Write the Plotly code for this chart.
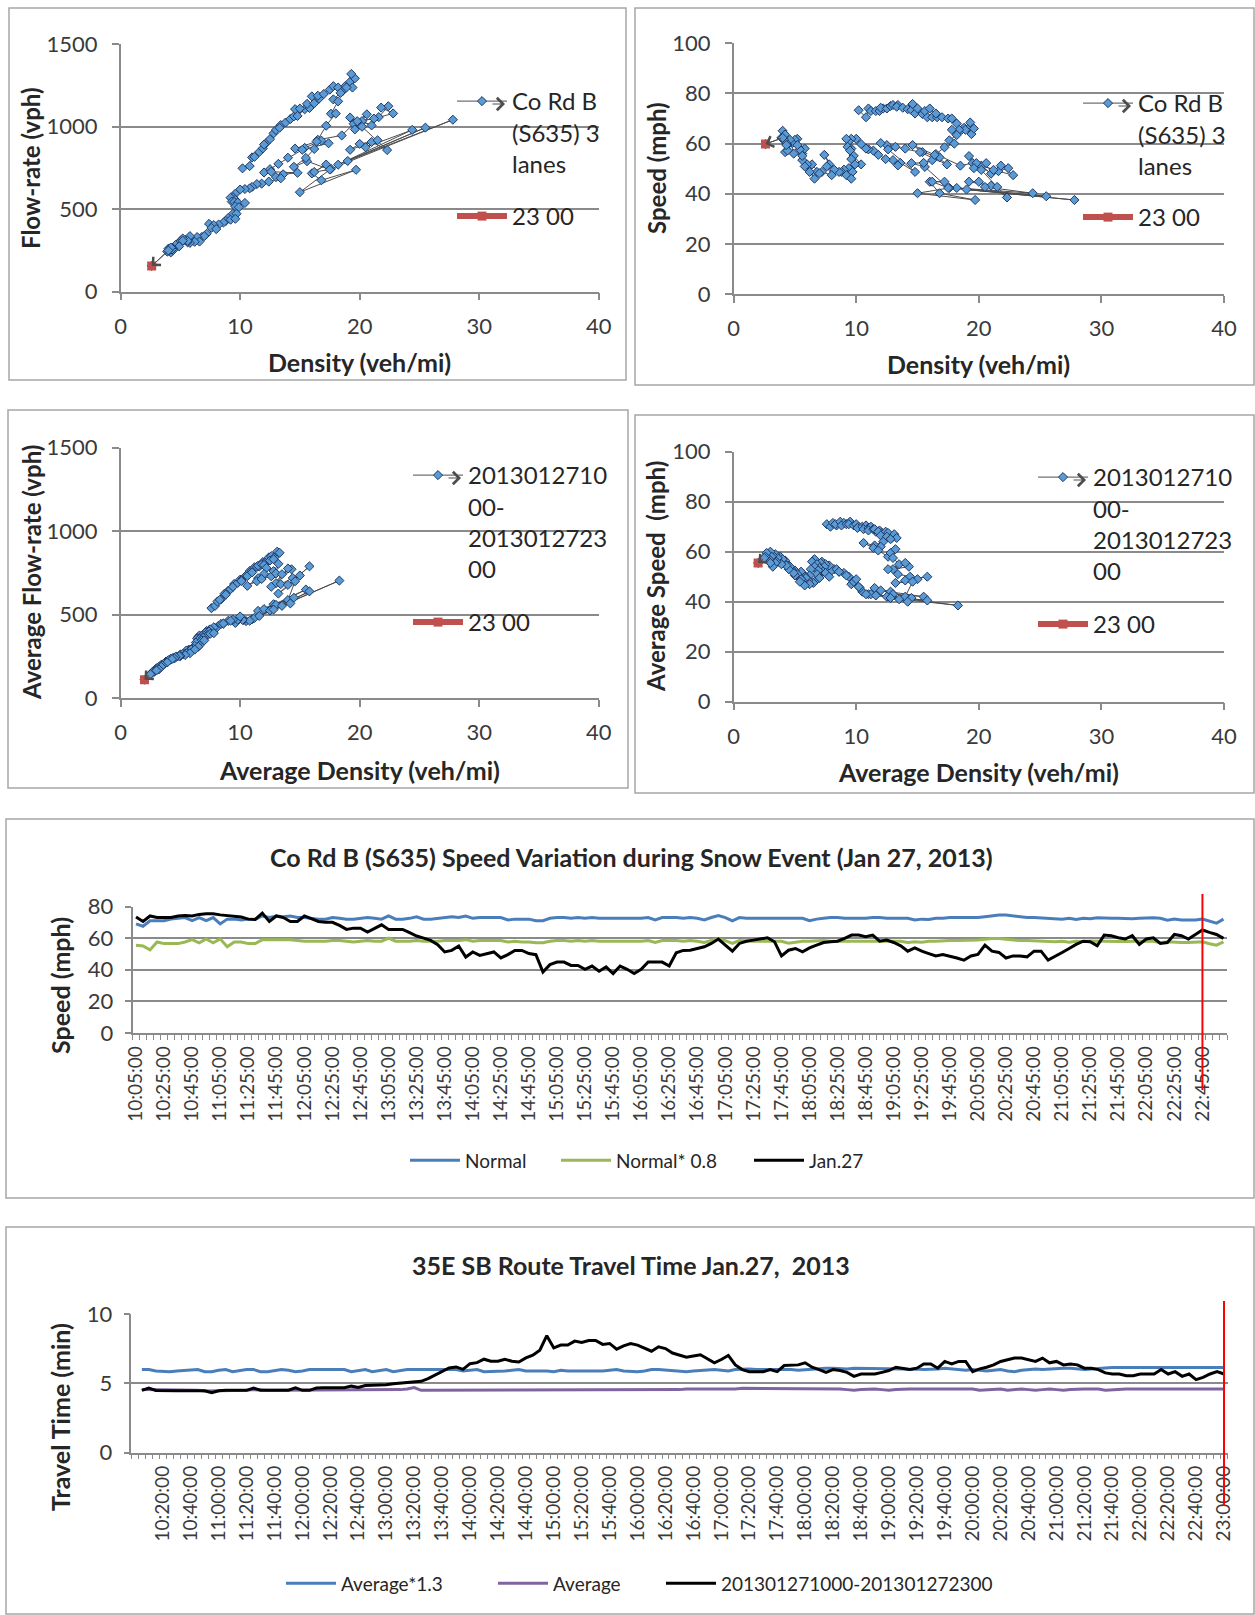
import plotly.graph_objects as go

# ---------------- data ----------------
# Co Rd B (S635), 3 lanes, 5-minute records 10:05 - 23:00 on Jan 27, 2013
cordb_speed = [
    73.3, 70.5, 74.0, 73.0, 73.0, 73.0, 74.0, 74.3, 74.0, 75.0,
    75.4, 75.4, 74.7, 74.3, 73.7, 73.3, 72.0, 71.8, 75.8, 70.5,
    74.0, 73.0, 70.5, 70.5, 74.0, 72.0, 70.5, 70.0, 70.0, 68.0,
    65.5, 66.3, 66.3, 63.8, 66.0, 68.4, 65.5, 65.5, 65.5, 63.4,
    61.3, 60.0, 58.5, 55.8, 51.2, 52.2, 55.0, 48.0, 51.2, 49.0,
    50.2, 51.2, 47.4, 49.5, 52.2, 52.2, 50.2, 49.5, 38.5, 43.2,
    44.8, 44.8, 42.7, 42.7, 40.2, 42.3, 39.0, 41.7, 37.5, 42.3,
    40.2, 37.5, 40.2, 44.8, 44.8, 44.8, 42.3, 50.7, 52.2, 52.3,
    53.4, 54.5, 56.6, 59.4, 55.5, 51.7, 56.6, 58.0, 58.7, 59.4,
    60.2, 57.7, 48.7, 52.3, 53.4, 51.3, 53.8, 55.5, 57.2, 57.7,
    58.0, 59.8, 61.9, 61.9, 60.9, 61.9, 58.0, 58.7, 57.2, 55.1,
    51.7, 53.8, 51.7, 50.2, 48.7, 49.6, 48.7, 47.4, 46.0, 48.7,
    49.6, 55.5, 51.7, 50.9, 47.4, 48.7, 48.7, 48.1, 51.7, 51.7,
    46.0, 48.7, 50.9, 53.4, 56.0, 58.0, 57.7, 55.1, 61.9, 61.5,
    60.2, 59.4, 61.5, 56.0, 59.4, 60.2, 56.6, 57.2, 62.3, 61.5,
    59.4, 62.3, 65.1, 63.6, 62.3, 59.8,
]
cordb_density = [
    10.2, 10.8, 11.0, 11.2, 11.6, 11.9, 12.2, 12.0, 12.5, 12.8,
    13.0, 13.4, 13.3, 13.8, 14.2, 14.5, 14.8, 15.4, 14.6, 15.8,
    15.0, 15.6, 16.2, 16.6, 16.0, 16.5, 17.0, 17.5, 17.8, 18.2,
    18.6, 18.8, 19.2, 19.4, 19.6, 19.3, 18.9, 18.4, 17.8, 18.2,
    17.6, 18.0, 17.2, 16.5, 18.5, 19.5, 19.2, 21.0, 20.2, 21.6,
    22.4, 21.8, 22.8, 21.2, 19.8, 20.6, 19.6, 20.2, 22.3, 21.0,
    20.0, 19.2, 21.5, 20.5, 24.4, 18.2, 25.5, 19.0, 27.8, 17.6,
    15.0, 19.7, 16.8, 16.0, 17.2, 16.2, 17.5, 15.6, 14.5, 15.5,
    16.2, 16.8, 15.4, 14.6, 16.4, 17.4, 15.2, 14.0, 13.2, 12.5,
    12.0, 12.6, 14.8, 13.6, 13.0, 13.4, 12.4, 11.8, 11.4, 11.0,
    10.8, 10.4, 10.0, 9.6, 9.4, 9.2, 9.6, 9.3, 9.5, 9.8,
    10.4, 9.6, 9.9, 9.4, 9.7, 9.0, 8.8, 9.2, 9.6, 8.6,
    8.2, 7.4, 7.8, 7.6, 8.0, 7.2, 6.8, 7.0, 6.4, 6.0,
    6.6, 6.2, 5.8, 5.6, 5.6, 5.8, 5.4, 5.6, 5.2, 5.0,
    4.8, 5.2, 4.6, 4.9, 4.4, 4.3, 4.2, 4.4, 4.0, 4.1,
    4.3, 3.9, 4.0, 4.2, 4.0, 2.6,
]
normal_speed = [
    69.0, 67.5, 71.0, 71.0, 71.0, 72.0, 72.5, 73.0, 71.0, 73.0,
    71.0, 73.0, 69.0, 72.0, 72.0, 71.5, 72.0, 72.0, 74.0, 73.0,
    74.0, 73.5, 74.0, 73.0, 73.0, 72.5, 72.0, 72.0, 73.0, 72.5,
    72.0, 72.0, 72.5, 73.0, 72.5, 72.0, 74.0, 72.0, 72.0, 72.5,
    73.5, 72.0, 72.0, 72.5, 73.0, 73.5, 73.0, 74.0, 72.5, 73.0,
    73.0, 73.0, 73.0, 71.5, 72.0, 72.0, 72.0, 71.0, 71.0, 72.5,
    73.0, 73.0, 72.5, 73.0, 72.5, 73.0, 72.5, 72.5, 72.5, 72.5,
    72.5, 72.5, 72.5, 73.0, 71.5, 73.0, 73.0, 73.0, 72.5,
    73.0, 72.5, 71.5, 73.0, 74.3, 73.0, 70.9, 73.0, 72.5, 72.5,
    72.5, 72.5, 72.5, 72.5, 72.5, 72.5, 72.5, 71.0, 72.0, 72.5,
    73.0, 73.0, 72.5, 72.5, 72.5, 72.5, 73.0, 73.0, 72.5, 72.5,
    72.5, 72.5, 71.5, 72.0, 71.8, 72.5, 72.5, 73.0, 73.0, 73.0,
    73.0, 73.0, 73.5, 74.0, 74.6, 74.6, 74.0, 73.5, 73.0, 73.0,
    72.8, 72.5, 72.5, 72.0, 72.5, 71.8, 72.5, 72.3, 72.8, 72.5,
    72.5, 72.5, 72.2, 72.3, 72.5, 72.8, 72.8, 72.5, 71.3, 72.0,
    71.5, 71.5, 71.5, 72.0, 70.5, 69.4, 72.0,
]
normal_speed_80 = [
    55.4, 55.0, 52.5, 57.5, 56.5, 56.5, 56.5, 57.5, 59.0, 57.0,
    59.5, 57.0, 59.5, 54.5, 57.5, 57.5, 56.5, 56.5, 59.0, 59.0,
    59.0, 59.0, 59.0, 58.5, 58.0, 58.0, 58.0, 58.0, 58.5, 58.5,
    58.0, 57.5, 58.0, 58.5, 58.0, 58.0, 60.0, 58.0, 58.0, 58.0,
    58.5, 58.0, 58.0, 58.0, 58.5, 58.5, 58.5, 59.0, 58.0, 58.5,
    58.5, 58.5, 58.5, 57.5, 58.0, 57.5, 57.5, 57.0, 57.0, 58.0,
    58.5, 58.5, 58.0, 58.5, 58.0, 58.5, 58.0, 58.0, 58.0, 58.0,
    58.0, 58.0, 58.0, 58.5, 57.2, 58.5, 58.5, 58.5, 58.0, 58.5,
    58.0, 57.2, 58.5, 59.4, 58.4, 56.7, 58.4, 58.0, 58.0, 58.0,
    58.0, 58.0, 58.0, 56.8, 57.6, 58.0, 58.0, 58.4, 58.4, 58.0,
    58.0, 58.0, 58.0, 58.0, 58.4, 58.4, 58.0, 58.0, 58.0, 58.0,
    57.2, 57.6, 57.4, 58.0, 58.0, 58.4, 58.4, 58.4, 58.4, 58.4,
    58.8, 59.2, 59.7, 59.7, 59.2, 58.8, 58.4, 58.4, 58.2, 58.0,
    58.0, 57.6, 58.0, 57.4, 58.0, 57.8, 58.2, 58.0, 58.0, 58.0,
    57.8, 57.8, 58.0, 58.2, 58.2, 58.0, 57.0, 57.6, 57.2, 57.2,
    57.2, 57.2, 57.6, 56.4, 55.5, 57.6,
]

# Route averages, 201301271000-201301272300
avg_density = [
    7.6, 7.9, 8.1, 8.4, 8.3, 8.7, 9.0, 8.8, 9.2, 9.5,
    9.4, 9.8, 10.0, 10.2, 10.1, 10.5, 10.8, 10.6, 11.0, 11.2,
    11.0, 11.4, 11.6, 11.5, 11.9, 12.1, 11.8, 12.2, 12.4, 12.0,
    12.6, 12.5, 12.9, 13.1, 13.3, 12.8,
    12.2, 11.5, 10.6, 11.4, 12.0, 11.8, 12.6, 12.8, 13.2, 13.0,
    13.5, 14.3, 13.0, 14.0, 12.6, 13.4, 14.4, 15.0, 14.0, 15.8,
    13.2, 14.6,
    14.0, 12.8, 11.5, 13.0, 15.5, 12.0, 14.5, 11.0, 15.8, 12.5,
    13.5, 14.2, 11.2, 18.3, 12.8, 10.5, 11.6, 10.3, 10.8, 9.6,
    10.2,
    9.8, 9.4, 10.0, 9.0, 8.6, 8.2, 9.2, 8.0, 7.6, 8.4,
    7.4, 7.8, 7.2, 7.5, 8.6, 7.0, 6.8, 6.5, 6.6, 7.1,
    7.4, 6.4, 6.8, 7.0, 7.3, 6.6, 7.5, 7.8, 6.9, 6.3,
    6.8, 7.0,
    6.6, 6.2, 6.5, 6.0, 5.7, 6.1, 5.8, 5.5, 5.9, 6.2,
    5.6, 5.3, 5.0, 5.2, 5.5, 5.8, 5.4, 5.0, 4.7, 4.9,
    4.4, 4.6, 4.2, 4.5, 4.1, 3.8, 4.0, 4.3, 3.7, 3.4,
    3.6, 3.9, 3.2, 3.5, 3.0, 3.1, 3.4, 2.9, 2.7, 3.2,
    2.8, 2.6, 3.0, 2.5, 2.0,
]
avg_speed = [
    71.0, 70.0, 71.5, 70.5, 71.0, 72.0, 71.5, 70.5, 71.0, 72.0,
    71.0, 70.5, 71.0, 70.0, 69.5, 70.0, 70.5, 69.0, 69.5, 70.0,
    68.5, 69.0, 68.0, 69.0, 68.5, 67.5, 68.0, 67.0, 68.0, 66.5,
    67.5, 66.0, 65.5, 67.0, 65.5, 65.0,
    64.0, 62.5, 63.5, 61.5, 62.0, 60.5, 58.0, 59.5, 61.0, 57.5,
    55.0, 54.0, 53.0, 55.5, 53.0, 51.0, 50.0, 49.0, 48.5, 50.0,
    47.5, 48.0,
    42.0, 44.0, 45.5, 43.0, 42.0, 44.5, 41.5, 43.0, 40.5, 42.0,
    41.0, 40.0, 43.0, 38.5, 41.5, 44.0, 42.5, 45.5, 43.0, 47.0,
    46.0,
    48.0, 50.0, 49.0, 51.5, 52.0, 53.0, 50.5, 52.5, 54.0, 53.0,
    55.0, 54.5, 56.0, 55.0, 52.0, 53.5, 55.0, 56.5, 57.0, 55.5,
    54.0, 56.0, 55.0, 53.5, 52.0, 54.0, 51.5, 50.0, 52.5, 53.0,
    51.0, 49.5,
    48.0, 50.5, 47.5, 49.0, 51.0, 48.5, 50.0, 52.0, 49.5, 47.0,
    48.5, 50.0, 52.5, 51.0, 49.0, 46.5, 48.0, 50.5, 53.0, 51.5,
    55.0, 54.0, 56.5, 53.0, 55.5, 58.0, 57.0, 54.5, 56.0, 59.0,
    57.5, 55.0, 58.5, 56.0, 60.0, 58.0, 55.5, 57.0, 59.5, 54.0,
    56.5, 58.0, 55.5, 57.5, 55.5,
]

# 35E SB route travel time (min), 10:05 - 23:00
tt_avg_x13 = [
    6.0, 6.0, 5.9, 5.85, 5.85, 5.9, 5.95, 6.0, 6.0, 5.85,
    5.85, 5.95, 6.0, 5.85, 5.95, 6.0, 6.0, 5.85, 5.85, 5.95,
    6.0, 5.95, 5.85, 5.9, 6.0, 6.0, 6.0, 6.0, 6.0, 6.0,
    5.85, 5.95, 6.0, 5.85, 5.95, 6.0, 5.85, 5.95, 6.0, 6.0,
    6.0, 6.0, 6.0, 6.0, 6.0, 6.0, 5.9, 5.95, 6.0, 5.85,
    5.85, 5.9, 5.9, 5.95, 6.0, 5.9, 5.9, 5.95, 5.9, 5.85,
    5.95, 5.9, 5.9, 5.85, 5.85, 5.85, 5.9, 5.95, 6.0, 5.9,
    5.85, 5.85, 5.9, 6.0, 6.0, 5.95, 5.9, 5.85, 5.85, 5.9,
    5.95, 5.95, 6.0, 5.95, 5.9, 6.0, 6.05, 6.05, 6.0, 6.0,
    6.0, 6.05, 6.05, 6.0, 5.95, 6.0, 6.0, 6.05, 6.1, 6.1,
    6.05, 6.05, 6.1, 6.1, 6.1, 6.1, 6.05, 6.05, 6.1, 6.05,
    6.0, 6.05, 6.0, 6.0, 6.05, 6.1, 6.05, 6.0, 5.95, 6.0,
    5.95, 5.9, 5.95, 6.0, 5.9, 5.85, 5.95, 6.0, 6.05, 6.0,
    6.05, 6.05, 6.1, 6.1, 6.05, 6.0, 6.05, 6.1, 6.15, 6.15,
    6.15, 6.15, 6.15, 6.15, 6.15, 6.15, 6.15, 6.15, 6.15, 6.15,
    6.15, 6.15, 6.15, 6.15, 6.15, 6.15,
]
tt_avg = [
    4.55, 4.55, 4.5, 4.5, 4.5, 4.5, 4.5, 4.5, 4.5, 4.45,
    4.45, 4.5, 4.5, 4.5, 4.5, 4.5, 4.55, 4.5, 4.5, 4.5,
    4.5, 4.5, 4.55, 4.5, 4.5, 4.5, 4.5, 4.5, 4.5, 4.55,
    4.5, 4.5, 4.55, 4.55, 4.55, 4.55, 4.55, 4.55, 4.6, 4.7,
    4.5, 4.5, 4.5, 4.5, 4.5, 4.5, 4.5, 4.5, 4.5, 4.5,
    4.5, 4.5, 4.5, 4.5, 4.5, 4.5, 4.5, 4.5, 4.5, 4.5,
    4.5, 4.5, 4.5, 4.5, 4.5, 4.5, 4.5, 4.5, 4.5, 4.5,
    4.5, 4.5, 4.5, 4.5, 4.5, 4.5, 4.55, 4.55, 4.6, 4.6,
    4.55, 4.55, 4.6, 4.55, 4.55, 4.6, 4.65, 4.65, 4.6, 4.6,
    4.65, 4.65, 4.6, 4.6, 4.6, 4.65, 4.65, 4.6, 4.65, 4.6,
    4.6, 4.55, 4.5, 4.55, 4.6, 4.6, 4.55, 4.5, 4.55, 4.6,
    4.6, 4.6, 4.6, 4.6, 4.6, 4.65, 4.65, 4.65, 4.65, 4.6,
    4.5, 4.55, 4.6, 4.6, 4.5, 4.55, 4.6, 4.55, 4.5, 4.55,
    4.6, 4.55, 4.5, 4.55, 4.6, 4.6, 4.6, 4.6, 4.5, 4.55,
    4.6, 4.6, 4.6, 4.6, 4.6, 4.6, 4.6, 4.6, 4.6, 4.6,
    4.6, 4.6, 4.6, 4.6, 4.6, 4.6,
]
tt_jan27 = [
    4.49, 4.66, 4.49, 4.47, 4.47, 4.47, 4.47, 4.47, 4.47, 4.47,
    4.32, 4.47, 4.5, 4.5, 4.5, 4.5, 4.66, 4.51, 4.51, 4.51,
    4.51, 4.51, 4.68, 4.5, 4.5, 4.66, 4.68, 4.68, 4.68, 4.68,
    4.8, 4.7, 4.85, 4.85, 4.85, 4.9, 4.98, 5.02, 5.1, 5.15,
    5.15, 5.34, 5.58, 5.83, 6.12, 6.19, 6.02, 6.43, 6.5, 6.75,
    6.6, 6.6, 6.75, 6.6, 6.55, 6.84, 7.04, 7.4, 8.45, 7.57,
    7.77, 7.77, 8.06, 7.96, 8.1, 8.1, 7.82, 7.89, 7.48, 7.72,
    7.89, 7.77, 7.57, 7.33, 7.65, 7.52, 7.2, 7.05, 6.9, 6.98,
    7.07, 6.78, 6.49, 6.73, 7.02, 6.34, 6.0, 5.85, 5.85, 5.85,
    6.0, 5.85, 6.29, 6.34, 6.34, 6.49, 6.17, 6.0, 5.8, 6.0,
    5.93, 5.8, 5.51, 5.68, 5.68, 5.68, 5.8, 5.93, 6.17, 6.1,
    6.0, 6.1, 6.41, 6.41, 6.1, 6.59, 6.41, 6.59, 6.59, 5.85,
    6.05, 6.17, 6.34, 6.59, 6.73, 6.83, 6.83, 6.73, 6.59, 6.83,
    6.49, 6.59, 6.34, 6.41, 6.34, 6.1, 6.1, 6.0, 5.76, 5.68,
    5.68, 5.56, 5.56, 5.68, 5.68, 5.68, 6.0, 5.68, 5.85, 5.51,
    5.68, 5.27, 5.44, 5.68, 5.85, 5.68,
]

# flow-rate from the fundamental relation q = k * v
cordb_flow = [k * v for k, v in zip(cordb_density, cordb_speed)]
avg_flow = [k * v for k, v in zip(avg_density, avg_speed)]


def clock_labels(start_min, end_min, step=5):
    return [f"{m // 60}:{m % 60:02d}:00" for m in range(start_min, end_min + 1, step)]


speed_times = clock_labels(10 * 60 + 5, 23 * 60)   # 10:05 .. 23:00
tt_times = clock_labels(10 * 60, 23 * 60)          # 10:00 .. 23:00
tt_first = tt_times.index("10:05:00")

# ---------------- styling ----------------
FONT = "Lato"
INK = "#262626"
TICK_INK = "#3A3A3A"
GRID = "#8A8A8A"
BOX = "#A6A6A6"
LINK = "#4D4D4D"
W, H = 1255, 1615


def fx(p):
    return p / W


def fy(p):
    return 1 - p / H


fig = go.Figure()
layout = dict(
    width=W, height=H,
    margin=dict(l=0, r=0, t=0, b=0, pad=0, autoexpand=False),
    paper_bgcolor="white", plot_bgcolor="white",
    font=dict(family=FONT, color=INK), showlegend=True,
)
annotations = []
shapes = []


def legend_box(xpx, ytop, size=24, itemwidth=50):
    return dict(x=fx(xpx), y=fy(ytop), xanchor="left", yanchor="top",
                bgcolor="rgba(0,0,0,0)", borderwidth=0, valign="top",
                itemwidth=itemwidth, font=dict(family=FONT, size=size, color=INK))


def title_note(text, xpx, ypx, size=25, angle=0):
    annotations.append(dict(text=f"<b>{text}</b>", x=fx(xpx), y=fy(ypx),
                            xref="paper", yref="paper", showarrow=False,
                            textangle=angle, xanchor="center", yanchor="middle",
                            font=dict(family=FONT, size=size, color=INK)))


def legend_arrow(xpx, ypx):
    annotations.append(dict(x=fx(xpx), y=fy(ypx), xref="paper", yref="paper",
                            ax=-14, ay=0, text="", showarrow=True, arrowhead=4,
                            arrowsize=2.4, arrowwidth=1, arrowcolor=LINK))


def panel_box(x0, y0, x1, y1):
    shapes.append(dict(type="rect", xref="paper", yref="paper",
                       x0=fx(x0), x1=fx(x1), y0=fy(y1), y1=fy(y0),
                       line=dict(color=BOX, width=1.5), layer="below"))


def scatter_panel(k, xpx, ypx, xs, ys, ymax, ydtick, name, legs, xtitle, ytitle):
    xa = "x" if k == 1 else f"x{k}"
    ya = "y" if k == 1 else f"y{k}"
    fig.add_trace(go.Scatter(
        x=xs, y=ys, mode="lines+markers", name=name, xaxis=xa, yaxis=ya,
        legend=legs[0], hoverinfo="skip",
        line=dict(color=LINK, width=1),
        marker=dict(symbol="diamond", size=7, color="#5B9BD5",
                    line=dict(color="#1F3864", width=1))))
    # open arrow head on the last segment
    annotations.append(dict(x=xs[-1], y=ys[-1], ax=xs[-2], ay=ys[-2],
                            xref=xa, yref=ya, axref=xa, ayref=ya, text="",
                            showarrow=True, arrowhead=4, arrowsize=2.2,
                            arrowwidth=1, arrowcolor=LINK))
    fig.add_trace(go.Scatter(
        x=[xs[-1]], y=[ys[-1]], mode="lines+markers", name="23 00",
        xaxis=xa, yaxis=ya, legend=legs[1], hoverinfo="skip",
        line=dict(color="#C0504D", width=6),
        marker=dict(symbol="square", size=9, color="#C0504D")))
    axfont = dict(family=FONT, size=22, color=TICK_INK)
    layout["xaxis" if k == 1 else f"xaxis{k}"] = dict(
        domain=[fx(xpx[0]), fx(xpx[1])], range=[0, 40], tick0=0, dtick=10,
        anchor=ya, showgrid=False, zeroline=False, showline=True,
        linecolor=GRID, linewidth=1.5, ticks="outside", ticklen=7,
        tickwidth=1.5, tickcolor=GRID, tickfont=axfont, ticklabelstandoff=7)
    layout["yaxis" if k == 1 else f"yaxis{k}"] = dict(
        domain=[fy(ypx[1]), fy(ypx[0])], range=[0, ymax], tick0=0, dtick=ydtick,
        anchor=xa, showgrid=True, gridcolor=GRID, gridwidth=1.5, zeroline=False,
        showline=True, linecolor=GRID, linewidth=1.5, ticks="outside",
        ticklen=7, tickwidth=1.5, tickcolor=GRID, tickfont=axfont,
        ticklabelstandoff=10)
    title_note(xtitle[0], xtitle[1], xtitle[2], size=25)
    title_note(ytitle[0], ytitle[1], ytitle[2], size=24, angle=-90)


cordb_name = "Co Rd B<br>(S635) 3<br>lanes"
avg_name = "2013012710<br>00-<br>2013012723<br>00"

scatter_panel(1, (120.6, 598.7), (44.3, 291.6), cordb_density, cordb_flow, 1500, 500,
              cordb_name, ("legend", "legend2"),
              ("Density (veh/mi)", 359, 362), ("Flow-rate (vph)", 31, 168))
scatter_panel(2, (733.6, 1224), (43.3, 294), cordb_density, cordb_speed, 100, 20,
              cordb_name, ("legend3", "legend4"),
              ("Density (veh/mi)", 979, 364), ("Speed (mph)", 657, 168))
scatter_panel(3, (120.6, 598.7), (447.7, 698.3), avg_density, avg_flow, 1500, 500,
              avg_name, ("legend5", "legend6"),
              ("Average Density (veh/mi)", 359, 770), ("Average Flow-rate (vph)", 31, 573))
scatter_panel(4, (733.6, 1224), (451.7, 701.7), avg_density, avg_speed, 100, 20,
              avg_name, ("legend7", "legend8"),
              ("Average Density (veh/mi)", 979, 772), ("Average Speed  (mph)", 655, 577))

layout["legend"] = legend_box(452, 79)
layout["legend2"] = legend_box(452, 194)
layout["legend3"] = legend_box(1078, 81)
layout["legend4"] = legend_box(1078, 195)
layout["legend5"] = legend_box(408, 453)
layout["legend6"] = legend_box(408, 600)
layout["legend7"] = legend_box(1033, 455)
layout["legend8"] = legend_box(1033, 602)
legend_arrow(505, 104)
legend_arrow(1131, 106)
legend_arrow(461, 478)
legend_arrow(1086, 480)


# ---------------- time-series panels ----------------
def series_axes(k, xpx, ypx, labels, ymax, ydtick, first_label):
    xa, ya = f"x{k}", f"y{k}"
    ticks_at = list(range(first_label, len(labels), 4))
    layout[f"xaxis{k}"] = dict(
        domain=[fx(xpx[0]), fx(xpx[1])], range=[-0.5, len(labels) - 0.5],
        anchor=ya, tickmode="array", tickvals=ticks_at,
        ticktext=[labels[i] for i in ticks_at], tickangle=-90, ticks="",
        showline=True, linecolor=GRID, linewidth=1.5, showgrid=False,
        zeroline=False, ticklabelstandoff=4,
        tickfont=dict(family=FONT, size=19, color=TICK_INK),
        minor=dict(tickmode="linear", tick0=-0.5, dtick=1, ticks="outside",
                   ticklen=5, tickcolor=GRID, tickwidth=1, showgrid=False))
    layout[f"yaxis{k}"] = dict(
        domain=[fy(ypx[1]), fy(ypx[0])], range=[0, ymax], tick0=0, dtick=ydtick,
        anchor=xa, showgrid=True, gridcolor=GRID, gridwidth=1.5, zeroline=False,
        showline=True, linecolor=GRID, linewidth=1.5, ticks="outside",
        ticklen=6, tickwidth=1.5, tickcolor=GRID, ticklabelstandoff=7,
        tickfont=dict(family=FONT, size=22, color=TICK_INK))


x5 = list(range(len(speed_times)))
for vals, nm, col, leg in [(normal_speed, "Normal", "#4A7EBB", "legend9"),
                           (normal_speed_80, "Normal* 0.8", "#98B954", "legend10"),
                           (cordb_speed, "Jan.27", "#000000", "legend11")]:
    fig.add_trace(go.Scatter(x=x5, y=vals, mode="lines", name=nm, xaxis="x5",
                             yaxis="y5", legend=leg, hoverinfo="skip",
                             line=dict(color=col, width=3)))
series_axes(5, (132.5, 1227), (906.5, 1032.8), speed_times, 80, 20, 0)

x6 = list(range(tt_first, tt_first + len(tt_jan27)))
for vals, nm, col, leg in [(tt_avg_x13, "Average*1.3", "#4A7EBB", "legend12"),
                           (tt_avg, "Average", "#8064A2", "legend13"),
                           (tt_jan27, "201301271000-201301272300", "#000000", "legend14")]:
    fig.add_trace(go.Scatter(x=x6, y=vals, mode="lines", name=nm, xaxis="x6",
                             yaxis="y6", legend=leg, hoverinfo="skip",
                             line=dict(color=col, width=3)))
series_axes(6, (131.4, 1227.5), (1314.3, 1452.5), tt_times, 10, 5, 4)

for name, xpx in [("legend9", 405), ("legend10", 556), ("legend11", 749)]:
    layout[name] = legend_box(xpx, 1141.5, size=19)
for name, xpx in [("legend12", 281), ("legend13", 493), ("legend14", 661)]:
    layout[name] = legend_box(xpx, 1564.5, size=19)

title_note("Co Rd B (S635) Speed Variation during Snow Event (Jan 27, 2013)", 631, 857)
title_note("Speed (mph)", 60, 986, size=25, angle=-90)
title_note("35E SB Route Travel Time Jan.27,  2013", 631, 1265)
title_note("Travel Time (min)", 60, 1417, size=25, angle=-90)

# red time markers
shapes.append(dict(type="line", xref="x5", yref="paper",
                   x0=speed_times.index("22:45:00"), x1=speed_times.index("22:45:00"),
                   y0=fy(1090), y1=fy(894), line=dict(color="#FF0000", width=2)))
shapes.append(dict(type="line", xref="x6", yref="paper",
                   x0=tt_times.index("23:00:00"), x1=tt_times.index("23:00:00"),
                   y0=fy(1506), y1=fy(1301), line=dict(color="#FF0000", width=2)))

# chart-area frames
panel_box(9, 8, 626, 380)
panel_box(635, 8, 1254, 385)
panel_box(8, 410, 628, 788)
panel_box(635, 415, 1254, 793)
panel_box(6, 819, 1254, 1198)
panel_box(6, 1227, 1254, 1614)

layout["annotations"] = annotations
layout["shapes"] = shapes
fig.update_layout(**layout)
fig.write_html("out.html")
